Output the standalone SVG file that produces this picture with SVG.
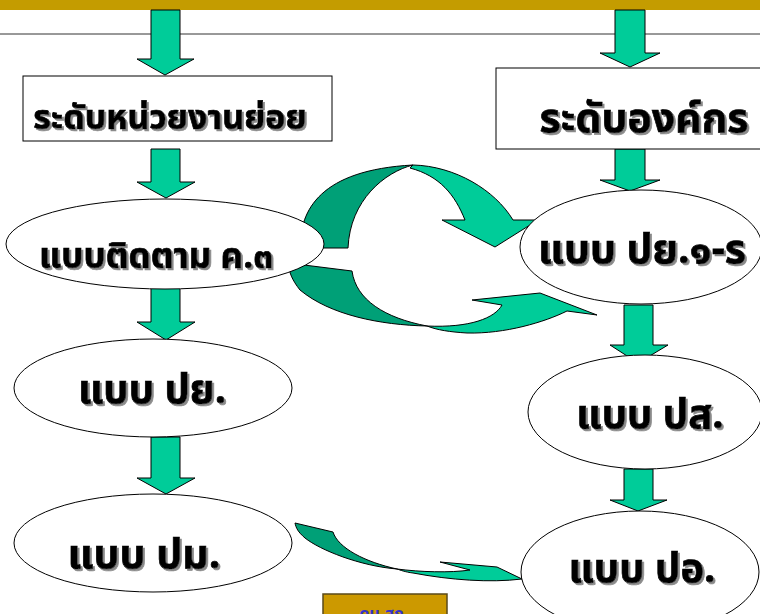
<svg xmlns="http://www.w3.org/2000/svg" width="760" height="614" viewBox="0 0 760 614">
<style>
.arr{fill:#00CC99;stroke:#000;stroke-width:1;stroke-linejoin:miter}
.dark{fill:#00A077;stroke:#000;stroke-width:1}
.node{fill:#fff;stroke:#000;stroke-width:1}
.t{font-family:"Noto Sans Thai","Tahoma","Noto Sans","DejaVu Sans",sans-serif;font-weight:bold;fill:#000;stroke:#000;stroke-width:0.7;text-anchor:middle;filter:url(#shadow)}
</style>
<defs>
<filter id="shadow" x="-5%" y="-20%" width="115%" height="150%">
<feDropShadow dx="2" dy="2" stdDeviation="0.4" flood-color="#8a8a8a" flood-opacity="1"/>
</filter>
</defs>
<rect x="0" y="0" width="760" height="10" fill="#C49C00"/>
<line x1="0" y1="34" x2="760" y2="34" stroke="#333" stroke-width="1"/>

<g id="connectors">
<path class="arr" d="M151,10 H180 V59 H194 L165,75 L137,59 H151 Z"/>
<path class="arr" d="M615,10 H645 V53 H660 L630,67 L600,53 H615 Z"/>
<path class="arr" d="M151,149 H180 V182 H195 L166,198 L137,182 H151 Z"/>
<path class="arr" d="M151,288 H180 V322 H195 L166,340 L137,322 H151 Z"/>
<path class="arr" d="M151,437 H180 V478 H195 L166,494 L137,478 H151 Z"/>
<path class="arr" d="M615,149 H645 V180 H660 L630,191 L600,180 H615 Z"/>
<path class="arr" d="M624,305 H653 V345 H668 L638,363 L610,345 H624 Z"/>
<path class="arr" d="M624,469 H653 V500 H667 L638,511 L610,500 H624 Z"/>
<!-- upper curved arrow -->
<path class="dark" d="M300,248 C300,210 320,170 413,165 C385,172 350,200 348,248 Z"/>
<path class="arr" d="M413,165 C455,166 495,190 513,220 L538,220 L495,247 L442,220 L465,220 C455,195 440,176 410,168 Z"/>
<!-- lower curved arrow -->
<path class="dark" d="M288,263 L352,271 C356,300 385,318 427,326 C380,325 330,315 300,290 C292,280 289,272 288,263 Z"/>
<path class="arr" d="M427,326 C470,328 495,318 502,305 L472,300 L540,293 L597,315 L567,311 C545,322 505,334 467,333 C450,332 437,330 427,326 Z"/>
<!-- bottom arrow -->
<path class="dark" d="M295,523 L333,532 C338,548 365,562 397,569 C360,566 320,550 305,538 C298,532 296,528 295,523 Z"/>
<path class="arr" d="M397,569 C420,572 450,573 470,570 L440,562 L497,567 L522,579 C490,583 450,580 413,573 C405,572 400,570 397,569 Z"/>
</g>

<g id="n-unit">
<rect class="node" x="23" y="76" width="309" height="65"/>
<text class="t" x="170" y="129" font-size="34">ระดับหน่วยงานย่อย</text>
</g>
<g id="n-org">
<rect class="node" x="496" y="68" width="270" height="81"/>
<text class="t" x="644" y="132" font-size="41">ระดับองค์กร</text>
</g>
<g id="n-k3">
<ellipse class="node" cx="165" cy="244" rx="159" ry="45"/>
<text class="t" x="156" y="268" font-size="35">แบบติดตาม ค.๓</text>
</g>
<g id="n-py1">
<ellipse class="node" cx="641" cy="247" rx="121" ry="57"/>
<text class="t" x="642" y="263" font-size="41">แบบ ปย.๑-ร</text>
</g>
<g id="n-py">
<ellipse class="node" cx="153" cy="388" rx="139" ry="49"/>
<text class="t" x="152" y="403" font-size="40">แบบ ปย.</text>
</g>
<g id="n-ps">
<ellipse class="node" cx="645" cy="412" rx="117" ry="57"/>
<text class="t" x="650" y="428" font-size="40">แบบ ปส.</text>
</g>
<g id="n-pm">
<ellipse class="node" cx="153" cy="543" rx="139" ry="49"/>
<text class="t" x="144" y="568" font-size="41">แบบ ปม.</text>
</g>
<g id="n-po">
<ellipse class="node" cx="640" cy="572" rx="119" ry="61"/>
<text class="t" x="642" y="582" font-size="40">แบบ ปอ.</text>
</g>
<g id="btn">
<rect x="323" y="594" width="124" height="30" fill="#CC9900" stroke="#5a4a1a" stroke-width="1.5"/>
<text x="384" y="619" font-size="16" font-weight="bold" fill="#3333CC" text-anchor="middle" font-family="'Noto Sans Thai','Tahoma','Noto Sans',sans-serif">ดน.สก.</text>
</g>
</svg>
